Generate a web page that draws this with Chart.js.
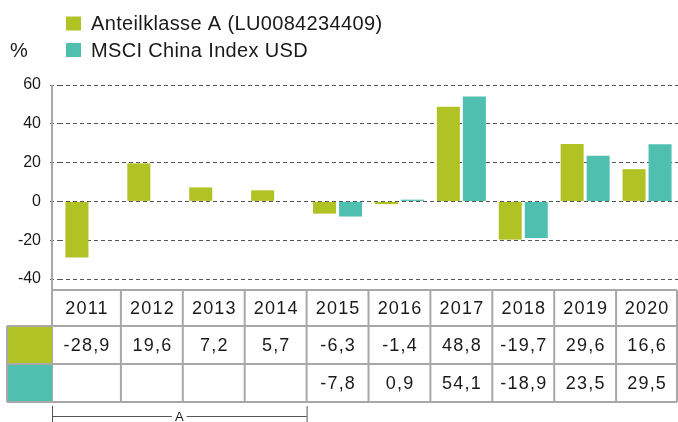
<!DOCTYPE html>
<html>
<head>
<meta charset="utf-8">
<script src="https://cdn.jsdelivr.net/npm/chart.js@4"></script>
<style>
  html, body { margin: 0; padding: 0; background: #fff; }
  #wrap { width: 678px; height: 422px; position: relative; }
</style>
</head>
<body>
<div id="wrap"><canvas id="chart"></canvas></div>
<script>
const years = ['2011', '2012', '2013', '2014', '2015', '2016', '2017', '2018', '2019', '2020'];
const fundValues = [-28.9, 19.6, 7.2, 5.7, -6.3, -1.4, 48.8, -19.7, 29.6, 16.6];
const indexValues = [null, null, null, null, -7.8, 0.9, 54.1, -18.9, 23.5, 29.5];
const seriesLabels = ['Anteilklasse A (LU0084234409)', 'MSCI China Index USD'];
const seriesColors = ['#b0c224', '#4fbfb0'];
const unitLabel = '%';
const bracketLabel = 'A';
const bracketYears = ['2011', '2014'];

const FONT = '"Liberation Sans", Arial, sans-serif';
const TEXT = '#1a1a1a';
const BORDER = '#a8a8a8';

const fmt = v => (v === null ? '' : v.toFixed(1).replace('.', ','));

// legend, table and bracket are drawn on the canvas from the arrays above
const extras = {
  id: 'extras',
  afterDraw(chart) {
    const ctx = chart.ctx;
    const x = chart.scales.x;
    const area = chart.chartArea;
    const half = (x.getPixelForValue(1) - x.getPixelForValue(0)) / 2;
    const tableLeft = 52;
    const swatchLeft = 7;
    const rows = [290, 326, 364, 402];

    ctx.save();
    // legend
    ctx.font = '20px ' + FONT;
    ctx.letterSpacing = '0.35px';
    ctx.textBaseline = 'middle';
    ctx.textAlign = 'left';
    seriesLabels.forEach((lbl, i) => {
      const cy = 23.5 + i * 26.5;
      ctx.fillStyle = seriesColors[i];
      ctx.fillRect(66, cy - 7, 15, 14);
      ctx.fillStyle = TEXT;
      ctx.fillText(lbl, 91, cy + 1);
    });
    ctx.fillText(unitLabel, 10, 51);

    // y axis line down through the table
    ctx.strokeStyle = BORDER;
    ctx.lineWidth = 2;
    ctx.beginPath();
    ctx.moveTo(tableLeft, area.top);
    ctx.lineTo(tableLeft, rows[3]);
    ctx.stroke();

    // swatch cells
    seriesColors.forEach((c, i) => {
      ctx.fillStyle = c;
      ctx.fillRect(swatchLeft, rows[i + 1], tableLeft - swatchLeft, rows[i + 2] - rows[i + 1]);
    });

    // column bounds
    const bounds = years.map((y, i) => {
      const c = x.getPixelForValue(i);
      return [i === 0 ? tableLeft : c - half, Math.min(c + half, chart.width - 1)];
    });
    const right = bounds[bounds.length - 1][1];

    ctx.strokeStyle = BORDER;
    ctx.lineWidth = 2;
    ctx.beginPath();
    ctx.moveTo(tableLeft, rows[0]); ctx.lineTo(right, rows[0]);
    for (let r = 1; r < 4; r++) { ctx.moveTo(swatchLeft, rows[r]); ctx.lineTo(right, rows[r]); }
    ctx.moveTo(swatchLeft, rows[1]); ctx.lineTo(swatchLeft, rows[3]);
    bounds.forEach(b => { ctx.moveTo(b[1], rows[0]); ctx.lineTo(b[1], rows[3]); });
    ctx.stroke();

    // cell text
    ctx.fillStyle = TEXT;
    ctx.font = '18px ' + FONT;
    ctx.letterSpacing = '1.2px';
    ctx.textAlign = 'center';
    const rowData = [years, fundValues.map(fmt), indexValues.map(fmt)];
    rowData.forEach((vals, r) => {
      const cy = (rows[r] + rows[r + 1]) / 2 + 1;
      vals.forEach((v, i) => ctx.fillText(v, (bounds[i][0] + bounds[i][1]) / 2 + 0.6, cy));
    });

    // bracket under the first years
    const bx0 = bounds[years.indexOf(bracketYears[0])][0];
    const bx1 = bounds[years.indexOf(bracketYears[1])][1];
    const by = 416;
    ctx.strokeStyle = '#555';
    ctx.lineWidth = 1;
    ctx.beginPath();
    ctx.moveTo(bx0 + 0.5, 406); ctx.lineTo(bx0 + 0.5, 422);
    ctx.moveTo(bx1 + 0.5, 406); ctx.lineTo(bx1 + 0.5, 422);
    ctx.moveTo(bx0, by + 0.5); ctx.lineTo(bx1, by + 0.5);
    ctx.stroke();
    ctx.font = '13px ' + FONT;
    ctx.letterSpacing = '0px';
    const bw = ctx.measureText(bracketLabel).width + 6;
    const bcx = (bx0 + bx1) / 2;
    ctx.fillStyle = '#fff';
    ctx.fillRect(bcx - bw / 2, by - 6, bw, 12);
    ctx.fillStyle = TEXT;
    ctx.fillText(bracketLabel, bcx, by + 1);
    ctx.restore();
  }
};

new Chart(document.getElementById('chart'), {
  type: 'bar',
  data: {
    labels: years,
    datasets: [
      { label: seriesLabels[0], data: fundValues, backgroundColor: seriesColors[0] },
      { label: seriesLabels[1], data: indexValues, backgroundColor: seriesColors[1] },
    ],
  },
  options: {
    responsive: true,
    maintainAspectRatio: false,
    animation: false,
    events: [],
    categoryPercentage: 0.84,
    barPercentage: 0.885,
    layout: { padding: { top: 85, bottom: 143, left: 0, right: 0 } },
    plugins: {
      legend: { display: false },
      tooltip: { enabled: false },
    },
    scales: {
      x: { display: false },
      y: {
        min: -40,
        max: 60,
        afterFit: s => { s.width = 59; },
        ticks: {
          stepSize: 20,
          padding: 9,
          color: TEXT,
          font: { family: FONT, size: 16 },
        },
        grid: {
          color: '#555',
          lineWidth: 1,
          tickLength: 9,
          tickColor: '#555',
          tickBorderDash: [4, 3],
        },
        border: { display: false, dash: [4, 3] },
      },
    },
  },
  plugins: [extras],
});
</script>
</body>
</html>
